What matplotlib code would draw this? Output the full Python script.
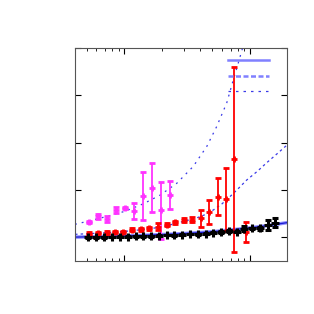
import matplotlib
matplotlib.use("Agg")
import matplotlib.pyplot as plt
from matplotlib.lines import Line2D

# black series
black_x = [5.17, 5.96, 6.89, 7.93, 9.24, 10.7, 12.4, 14.2, 16.3, 18.9, 21.7, 25.0, 28.9,
           33.3, 38.4, 44.4, 51.1, 59.2, 68.5, 78.4, 90.2, 103.8, 120.1, 139, 159]
black_y = [0.0, 0.0, 0.0, 0.007, 0.014, 0.014, 0.02, 0.02, 0.02, 0.035, 0.049, 0.042, 0.056,
           0.07, 0.063, 0.077, 0.099, 0.113, 0.134, 0.119, 0.18, 0.19, 0.19, 0.26, 0.31]
black_err = [0.01, 0.01, 0.01, 0.01, 0.01, 0.01, 0.01, 0.01, 0.01, 0.01, 0.01, 0.01, 0.01,
             0.01, 0.01, 0.01, 0.01, 0.02, 0.03, 0.01, 0.05, 0.01, 0.03, 0.1, 0.1]

# red series
red_x = [5.24, 6.14, 7.24, 8.44, 9.82, 11.6, 13.6, 15.8, 18.4, 21.7, 25.3, 29.7, 34.8,
         40.7, 47.5, 55.3, 64.8, 75.0, 92.9]
red_y = [0.08, 0.088, 0.1, 0.112, 0.112, 0.161, 0.17, 0.19, 0.225, 0.27, 0.32, 0.36, 0.373,
         0.40, 0.53, 0.86, 0.80, 1.65, 0.12]
red_err = [0.025, 0.025, 0.025, 0.025, 0.025, 0.03, 0.03, 0.035, 0.07, 0.04, 0.035, 0.046, 0.05,
           0.175, 0.25, 0.385, 0.66, 1.95, 0.21]

# magenta series
mag_x = [5.24, 6.18, 7.28, 8.59, 10.1, 11.9, 14.0, 16.5, 19.5, 23.0]
mag_y = [0.324, 0.445, 0.381, 0.572, 0.62, 0.557, 0.87, 1.05, 0.57, 0.89]
mag_err = [0.02, 0.05, 0.06, 0.06, 0.015, 0.166, 0.51, 0.51, 0.6, 0.29]

# fit curves
fit_solid_x = [4.05, 7, 10.1, 15, 25.3, 35, 51.1, 70, 100, 140, 197]
fit_solid_y = [0.005, 0.018, 0.03, 0.045, 0.07, 0.09, 0.12, 0.155, 0.2, 0.25, 0.31]
fit_dash_x = [4.05, 6.4, 10.1, 16.0, 21, 27.8, 32, 37.6, 44, 51.1, 60, 69.3, 80, 94.1,
              115, 135, 165, 197]
fit_dash_y = [0.063, 0.09, 0.125, 0.18, 0.235, 0.317, 0.36, 0.41, 0.48, 0.578, 0.71, 0.86,
              1.02, 1.21, 1.40, 1.57, 1.77, 1.95]
fit_dot_x = [4.05, 5.5, 7.46, 10.1, 14.2, 19.2, 26.1, 35.4, 45.3, 54.3, 65.3, 73.7, 80, 88.4]
fit_dot_y = [0.275, 0.36, 0.45, 0.55, 0.71, 0.89, 1.14, 1.5, 1.92, 2.34, 2.84, 3.33, 3.65, 4.05]


def graph_plot():
    fig = plt.figure(figsize=(3.14, 3.14), dpi=100)
    ax = fig.add_axes([75 / 314, 53 / 314, 212 / 314, 213 / 314])

    ax.plot(fit_solid_x, fit_solid_y, color="#8c8cff", lw=2.5)
    ax.plot(fit_solid_x, fit_solid_y, color="#1a1ad0", lw=0.9)
    ax.plot(fit_dash_x, fit_dash_y, color="#3a3ae8", lw=0.9, dashes=(2, 2.5))
    ax.plot(fit_dot_x, fit_dot_y, color="#3a3ae8", lw=0.9, dashes=(1.5, 4))

    ax.errorbar(mag_x, mag_y, yerr=mag_err, fmt="+", color="#ff33ff", ms=5, mew=2,
                elinewidth=1.3, capsize=2.5, capthick=1.2)
    ax.errorbar(red_x, red_y, yerr=red_err, fmt="+", color="#ff0000", ms=5, mew=2,
                elinewidth=1.3, capsize=2.5, capthick=1.2)
    ax.errorbar(black_x, black_y, yerr=black_err, fmt="+", color="black", ms=5.5, mew=2.2,
                elinewidth=1.1, capsize=2.5, capthick=1.1)

    handles = [Line2D([], [], color="#8080ff", lw=1.8),
               Line2D([], [], color="#8080ff", lw=1.8, dashes=(2, 1)),
               Line2D([], [], color="#3a3ae8", lw=0.9, dashes=(2, 4))]
    ax.legend(handles, ["", "", ""], loc="upper right", frameon=False, fontsize=8,
              handlelength=3.7, handletextpad=0, borderpad=0, labelspacing=0.5,
              bbox_to_anchor=((275 - 75) / 212, (261 - 50.7) / 213))

    ax.set_xscale("log")
    ax.set_xlim(4.05, 197)
    ax.set_ylim(-0.5, 4)
    ax.set_yticks([0, 1, 2, 3, 4])
    ax.tick_params(which="both", direction="in", top=True, right=True,
                   labelbottom=False, labelleft=False)
    ax.tick_params(which="major", length=4, width=0.8)
    ax.tick_params(which="minor", length=2, width=0.6)
    ax.xaxis.set_minor_formatter(plt.NullFormatter())
    for s in ax.spines.values():
        s.set_color("#555555")
        s.set_linewidth(0.8)

    fig.savefig("out.png", dpi=100)


def main():
    graph_plot()


if __name__ == "__main__":
    main()
